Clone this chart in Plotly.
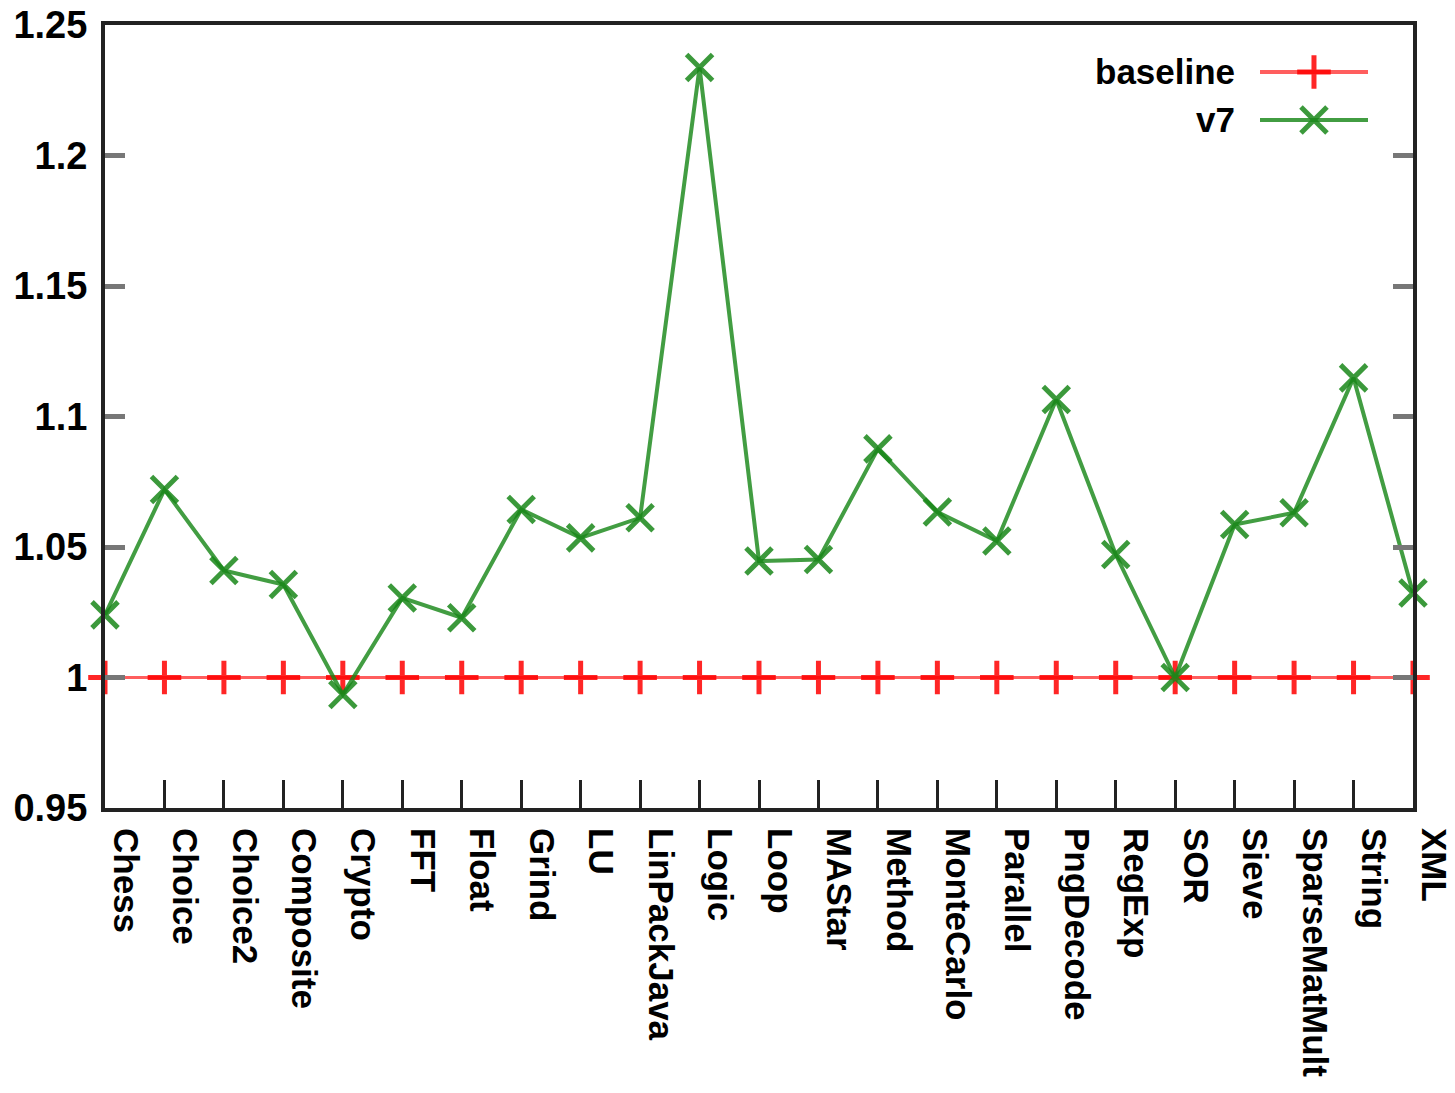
import plotly.graph_objects as go

benchmarks = ["Chess", "Choice", "Choice2", "Composite", "Crypto", "FFT", "Float",
              "Grind", "LU", "LinPackJava", "Logic", "Loop", "MAStar", "Method",
              "MonteCarlo", "Parallel", "PngDecode", "RegExp", "SOR", "Sieve",
              "SparseMatMult", "String", "XML"]
baseline = [1.0] * len(benchmarks)
v7 = [1.024, 1.072, 1.041, 1.0356, 0.9935, 1.0305, 1.0229, 1.0644, 1.0535, 1.0612,
      1.2337, 1.0446, 1.0452, 1.0876, 1.0634, 1.0523, 1.1065, 1.0471, 1.0,
      1.0586, 1.0631, 1.1148, 1.0324]
y_ticks = [0.95, 1.0, 1.05, 1.1, 1.15, 1.2, 1.25]
y_tick_text = ["0.95", "1", "1.05", "1.1", "1.15", "1.2", "1.25"]
series_names = ["baseline", "v7"]

RED_LINE = "rgba(255,40,40,0.75)"
RED_MARK = "rgba(255,0,0,0.85)"
GREEN_LINE = "rgba(25,135,25,0.82)"
GREEN_MARK = "rgba(25,135,25,0.85)"
FONT = "Liberation Sans"

fig = go.Figure()

fig.add_trace(go.Scatter(
    x=benchmarks, y=baseline, mode="lines+markers", name=series_names[0],
    line=dict(color=RED_LINE, width=3),
    marker=dict(symbol="cross-thin", size=24, line=dict(color=RED_MARK, width=5)),
    cliponaxis=False, showlegend=False))

fig.add_trace(go.Scatter(
    x=benchmarks, y=v7, mode="lines+markers", name=series_names[1],
    line=dict(color=GREEN_LINE, width=4),
    marker=dict(symbol="x-thin", size=26, line=dict(color=GREEN_MARK, width=5)),
    cliponaxis=False, showlegend=False))

# key samples, drawn on a small separate axis in the top-right corner
key_y = [0.94, 0.8787]
key_styles = [
    dict(line=dict(color=RED_LINE, width=4),
         marker=dict(symbol="cross-thin", size=24, line=dict(color=RED_MARK, width=5))),
    dict(line=dict(color=GREEN_LINE, width=4),
         marker=dict(symbol="x-thin", size=26, line=dict(color=GREEN_MARK, width=5))),
]
for ky, style in zip(key_y, key_styles):
    fig.add_trace(go.Scatter(
        x=[0, 0.5, 1], y=[ky, ky, ky], mode="lines", xaxis="x2", yaxis="y2",
        line=style["line"], showlegend=False, hoverinfo="skip", cliponaxis=False))
    fig.add_trace(go.Scatter(
        x=[0.5], y=[ky], mode="markers", xaxis="x2", yaxis="y2",
        marker=style["marker"], showlegend=False, hoverinfo="skip", cliponaxis=False))

for name, ky in zip(series_names, key_y):
    fig.add_annotation(
        text=name, xref="paper", yref="paper", x=0.8654, y=ky,
        xanchor="right", yanchor="middle", showarrow=False,
        font=dict(family=FONT, size=35, color="black", weight="bold"))

fig.update_layout(
    width=1455, height=1093,
    margin=dict(l=105, r=42, t=25, b=285, autoexpand=False),
    showlegend=False,
    paper_bgcolor="white", plot_bgcolor="rgba(0,0,0,0)",
    font=dict(family=FONT, size=35, color="black"),
    xaxis=dict(
        type="category", range=[0, len(benchmarks) - 1], automargin=False,
        showgrid=False, zeroline=False,
        showline=True, linecolor="#222", linewidth=4, mirror=True,
        ticks="inside", ticklen=28, tickwidth=3, tickcolor="#222",
        tickangle=90, ticklabelshift=20, ticklabelstandoff=9,
        tickfont=dict(family=FONT, size=35, color="black", weight="bold"),
    ),
    yaxis=dict(
        range=[0.95, 1.25], tickvals=y_ticks, ticktext=y_tick_text, automargin=False,
        showgrid=False, zeroline=False,
        showline=True, linecolor="#222", linewidth=4, mirror="ticks",
        ticks="inside", ticklen=20, tickwidth=5, tickcolor="#777",
        ticklabelstandoff=6,
        tickfont=dict(family=FONT, size=38, color="black", weight="bold"),
    ),
    xaxis2=dict(domain=[0.883, 0.9656], range=[0, 1], visible=False, anchor="y2"),
    yaxis2=dict(domain=[0, 1], range=[0, 1], visible=False, anchor="x2"),
)

fig.write_html("out.html")
